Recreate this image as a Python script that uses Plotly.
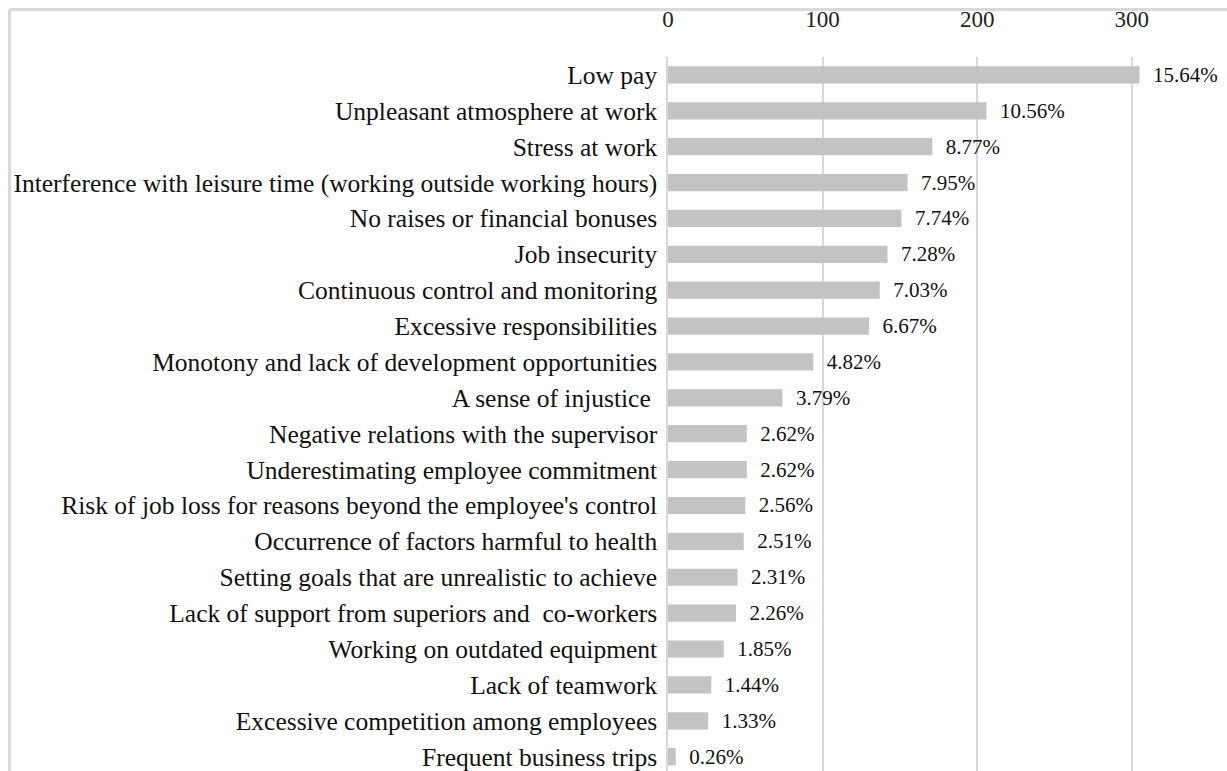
import plotly.graph_objects as go

# Reasons for leaving a job, number of answers (N = 1950 answers in total)
reasons = [
    "Low pay",
    "Unpleasant atmosphere at work",
    "Stress at work",
    "Interference with leisure time (working outside working hours)",
    "No raises or financial bonuses",
    "Job insecurity",
    "Continuous control and monitoring",
    "Excessive responsibilities",
    "Monotony and lack of development opportunities",
    "A sense of injustice ",
    "Negative relations with the supervisor",
    "Underestimating employee commitment",
    "Risk of job loss for reasons beyond the employee's control",
    "Occurrence of factors harmful to health",
    "Setting goals that are unrealistic to achieve",
    "Lack of support from superiors and  co-workers",
    "Working on outdated equipment",
    "Lack of teamwork",
    "Excessive competition among employees",
    "Frequent business trips",
]
counts = [305, 206, 171, 155, 151, 142, 137, 130, 94, 74,
          51, 51, 50, 49, 45, 44, 36, 28, 26, 5]
total_answers = 1950

x_ticks = [0, 100, 200, 300]
x_max = 350

share_labels = ["\u00a0\u00a0{:.2f}%".format(c / total_answers * 100) for c in counts]

W, H = 1227, 771
M_L, M_R, M_T, M_B = 668, 18, 57, 0
FONT = "Liberation Serif, Times New Roman, serif"
GRID = "#d9d9d9"

fig = go.Figure(
    go.Bar(
        x=counts,
        y=reasons,
        orientation="h",
        width=0.48,
        marker=dict(color="#c3c3c3", line=dict(width=0)),
        text=share_labels,
        textposition="outside",
        constraintext="none",
        cliponaxis=False,
        textfont=dict(family=FONT, size=21, color="#111111"),
        hoverinfo="skip",
    )
)

n = len(reasons)
fig.update_layout(
    width=W,
    height=H,
    margin=dict(l=M_L, r=M_R, t=M_T, b=M_B, pad=0),
    paper_bgcolor="white",
    plot_bgcolor="white",
    showlegend=False,
    font=dict(family=FONT, color="#111111"),
    xaxis=dict(
        side="top",
        range=[0, x_max],
        tickvals=x_ticks,
        ticktext=[str(v) for v in x_ticks],
        tickfont=dict(family=FONT, size=23, color="#222222"),
        ticks="",
        ticklabelstandoff=24,
        showgrid=True,
        gridcolor=GRID,
        gridwidth=1.5,
        zeroline=False,
        showline=False,
    ),
    yaxis=dict(
        type="category",
        categoryorder="array",
        categoryarray=reasons,
        range=[n - 0.6, -0.5],
        tickfont=dict(family=FONT, size=25.5, color="#111111"),
        ticks="",
        ticklabelstandoff=4,
        showgrid=False,
        zeroline=False,
        showline=True,
        linecolor=GRID,
        linewidth=1.5,
    ),
    bargap=0.5,
)

# light grey frame along the top and left edges
plot_w = W - M_L - M_R
plot_h = H - M_T - M_B


def px_to_paper_x(px):
    return (px - M_L) / plot_w


def px_to_paper_y(py):
    return (H - M_B - py) / plot_h


frame_x, frame_y = 9.5, 9.5
fig.add_shape(type="line", xref="paper", yref="paper",
              x0=px_to_paper_x(frame_x), x1=px_to_paper_x(W + 5),
              y0=px_to_paper_y(frame_y), y1=px_to_paper_y(frame_y),
              line=dict(color=GRID, width=3), layer="above")
fig.add_shape(type="line", xref="paper", yref="paper",
              x0=px_to_paper_x(frame_x), x1=px_to_paper_x(frame_x),
              y0=px_to_paper_y(frame_y), y1=px_to_paper_y(H + 5),
              line=dict(color=GRID, width=3), layer="above")

fig.write_html("out.html")
